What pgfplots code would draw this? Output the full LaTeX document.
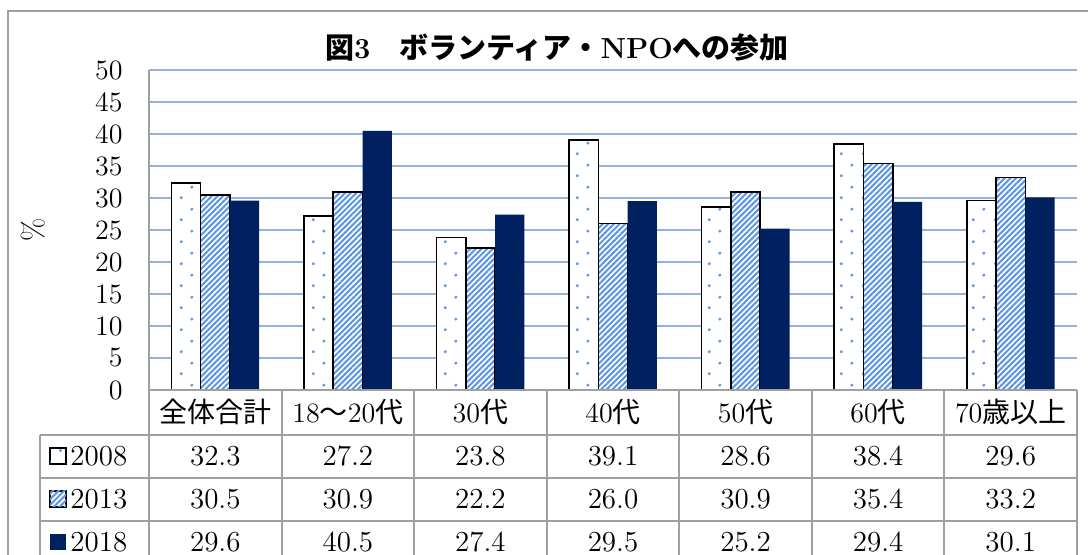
\documentclass[border=0pt]{standalone}
\usepackage{pgfplots}
\pgfplotsset{compat=1.18}
\usepackage{fontspec}
\newfontfamily\cjk{Noto Sans CJK JP}
\usetikzlibrary{patterns,patterns.meta}

\definecolor{gridblue}{RGB}{149,179,215}
\definecolor{dotblue}{RGB}{90,150,225}
\definecolor{stripeblue}{RGB}{95,150,225}
\definecolor{navy}{RGB}{0,32,96}
\definecolor{tablegray}{RGB}{160,160,160}

% staggered dots for the 2008 bars
\pgfdeclarepattern{
  name=stagdots,
  type=uncolored,
  bottom left={\pgfpoint{0pt}{0pt}},
  top right={\pgfpoint{11pt}{11pt}},
  tile size={\pgfpoint{11pt}{11pt}},
  code={
    \pgfpathcircle{\pgfpoint{2.75pt}{2.75pt}}{0.85pt}
    \pgfpathcircle{\pgfpoint{8.25pt}{8.25pt}}{0.85pt}
    \pgfusepath{fill}
  }
}

\tikzset{
  s2008/.style={draw=black, line width=0.8pt, fill=white,
    postaction={pattern=stagdots, pattern color=dotblue}},
  s2013/.style={draw=black, line width=0.8pt, fill=white,
    postaction={pattern={Lines[angle=45,distance=2pt,line width=1.05pt]}, pattern color=stripeblue}},
  s2018/.style={draw=none, fill=navy},
}

\begin{document}
% units: 1 = one pixel of the 1088x555 reference, y measured from the bottom
\begin{tikzpicture}[x=0.5pt, y=0.5pt]
\useasboundingbox (0,0) rectangle (1088,555);
\clip (0,0) rectangle (1088,555);

% outer frame
\draw[tablegray, line width=1pt] (8,-45) -- (8,544) -- (1100,544);

% title
\node[font=\fontsize{14.5}{17}\selectfont\bfseries] at (557,507)
  {{\cjk 図}3{\cjk 　ボランティア・}NPO{\cjk への参加}};

% y label
\node[rotate=90, font=\fontsize{15}{17}\selectfont] at (33,325) {\%};

\begin{axis}[
    at={(74.5pt,82.5pt)}, anchor=south west,
    scale only axis,
    width=464pt, height=160pt,
    xmin=-0.5, xmax=6.5,
    ymin=0, ymax=50,
    ytick={0,5,...,50},
    xtick={0,...,6},
    xticklabels={{\cjk 全体合計},18{\cjk ～}20{\cjk 代},30{\cjk 代},40{\cjk 代},50{\cjk 代},60{\cjk 代},70{\cjk 歳以上}},
    major tick length=0pt,
    axis line style={draw=none},
    ymajorgrids,
    grid style={gridblue, line width=0.75pt},
    /pgf/number format/assume math mode=true,
    yticklabel style={font=\fontsize{14}{16}\selectfont, anchor=east, inner sep=0pt, xshift=-13pt},
    xticklabel style={font=\fontsize{14}{16}\selectfont, anchor=center, inner sep=0pt, yshift=-11pt},
    ybar=0pt,
    bar width=0.221,
    clip=false,
]
% 2008
\addplot[s2008] coordinates {(0,32.3) (1,27.2) (2,23.8) (3,39.1) (4,28.6) (5,38.4) (6,29.6)};
% 2013
\addplot[s2013] coordinates {(0,30.5) (1,30.9) (2,22.2) (3,26.0) (4,30.9) (5,35.4) (6,33.2)};
% 2018
\addplot[s2018] coordinates {(0,29.6) (1,40.5) (2,27.4) (3,29.5) (4,25.2) (5,29.4) (6,30.1)};
\end{axis}

% data table
\begin{scope}[tablegray, line width=1pt]
  \draw (149,485) -- (149,-9);
  \draw (149,165) -- (1077,165);
  \foreach \y in {120,77,34,-9} \draw (40,\y) -- (1077,\y);
  \draw (40,120) -- (40,-9);
  \foreach \k in {1,...,7} \draw ({149+132.57*\k},165) -- ({149+132.57*\k},-9);
\end{scope}

% legend keys in the first column
\draw[s2008] (50,91) rectangle (66,107);
\draw[s2013] (50,48) rectangle (66,64);
\fill[navy] (50,5) rectangle (66,21);
\begin{scope}[font=\fontsize{14.5}{17}\selectfont]
  \node[anchor=west, inner sep=0pt] at (70,99) {2008};
  \node[anchor=west, inner sep=0pt] at (70,56) {2013};
  \node[anchor=west, inner sep=0pt] at (70,13) {2018};
  \foreach \v [count=\i from 0] in {32.3,27.2,23.8,39.1,28.6,38.4,29.6}
    \node at ({149+66.3+132.57*\i},99) {\v};
  \foreach \v [count=\i from 0] in {30.5,30.9,22.2,26.0,30.9,35.4,33.2}
    \node at ({149+66.3+132.57*\i},56) {\v};
  \foreach \v [count=\i from 0] in {29.6,40.5,27.4,29.5,25.2,29.4,30.1}
    \node at ({149+66.3+132.57*\i},13) {\v};
\end{scope}
\end{tikzpicture}
\end{document}
